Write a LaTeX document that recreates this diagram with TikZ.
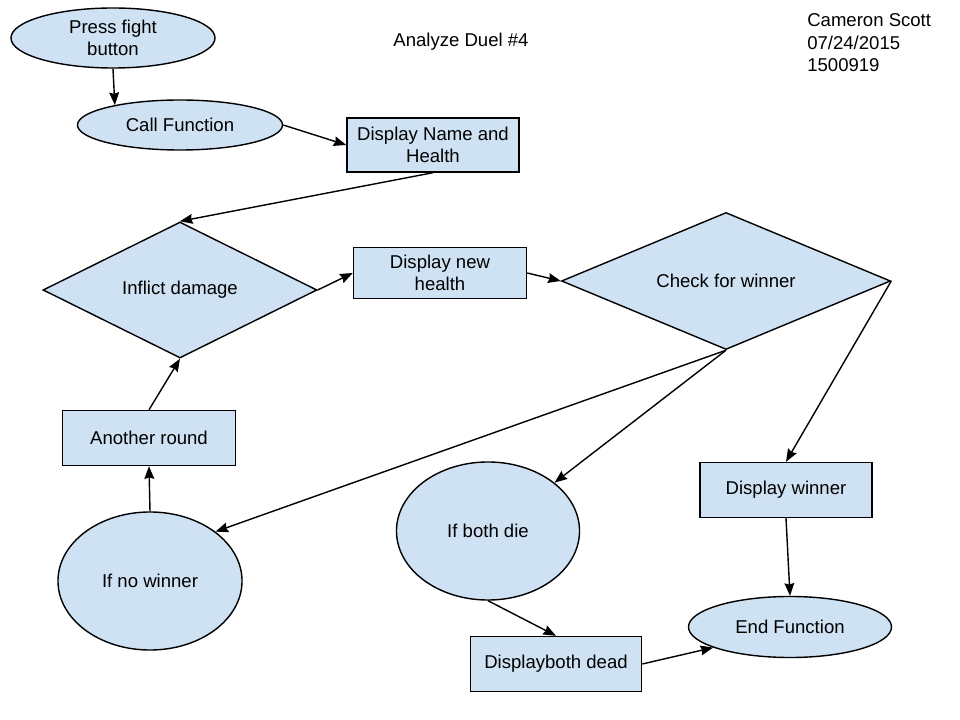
\documentclass[tikz,border=0pt]{standalone}
\usepackage{fontspec}
\setmainfont{Liberation Sans}
\usetikzlibrary{shapes.geometric,arrows.meta}
\definecolor{paleblue}{HTML}{CFE2F3}

\begin{document}
\begin{tikzpicture}[x=0.025cm, y=-0.025cm, >={Stealth[length=9pt,width=7pt,inset=1pt]},
    font=\fontsize{13.2pt}{15.5pt}\selectfont,
    oval/.style={ellipse, draw, line width=1pt, fill=paleblue, align=center, inner sep=0pt},
    box/.style={rectangle, draw, line width=1pt, fill=paleblue, align=center, inner sep=0pt},
    choice/.style={diamond, aspect=2.4, draw, line width=1pt, fill=paleblue, align=center, inner sep=0pt},
    flow/.style={->, line width=1pt}]
    \useasboundingbox (0,0) rectangle (960,720);
    \node[oval, minimum width=5.1cm, minimum height=1.5cm] (press) at (113,38) {Press fight\\button};
    \node[oval, minimum width=5.125cm, minimum height=1.25cm] (call) at (180,125) {Call Function};
    \node[box, minimum width=4.3cm, minimum height=1.35cm] (name) at (433,145) {Display Name and\\Health};
    \node[choice, minimum width=6.85cm, minimum height=3.4cm] (inflict) at (180,290) {Inflict damage};
    \node[box, minimum width=4.325cm, minimum height=1.275cm] (newhp) at (440,273) {Display new\\health};
    \node[choice, minimum width=8.225cm, minimum height=3.425cm] (check) at (726,281) {Check for winner};
    \node[box, minimum width=4.325cm, minimum height=1.375cm] (another) at (149,438) {Another round};
    \node[oval, minimum width=4.6cm, minimum height=3.45cm] (nowin) at (150,581) {If no winner};
    \node[oval, minimum width=4.575cm, minimum height=3.45cm] (bothdie) at (488,531) {If both die};
    \node[box, minimum width=4.3cm, minimum height=1.375cm] (winner) at (786,490) {Display winner};
    \node[box, minimum width=4.275cm, minimum height=1.375cm] (dead) at (556,664) {Displayboth dead};
    \node[oval, minimum width=5.075cm, minimum height=1.525cm] (endfn) at (790,627) {End Function};
    \node (title) at (461,42) {Analyze Duel \#4};
    \node[anchor=west, align=left, inner sep=0pt, font=\fontsize{13.2pt}{16pt}\selectfont] (author) at (807,43) {Cameron Scott\\07/24/2015\\1500919};
    \draw[flow] (press.south) -- (call.163);
    \draw[flow] (call.east) -- (name.west);
    \draw[flow] (name.south) -- (inflict.north);
    \draw[flow] (inflict.east) -- (newhp.west);
    \draw[flow] (newhp.east) -- (check.west);
    \draw[flow] (check.south) -- (nowin.37);
    \draw[flow] (check.south) -- (bothdie.36);
    \draw[flow] (check.east) -- (winner.north);
    \draw[flow] (winner.south) -- (endfn.north);
    \draw[flow] (bothdie.south) -- (dead.north);
    \draw[flow] (dead.east) -- (endfn.195);
    \draw[flow] (nowin.north) -- (another.south);
    \draw[flow] (another.north) -- (inflict.south);
\end{tikzpicture}
\end{document}
